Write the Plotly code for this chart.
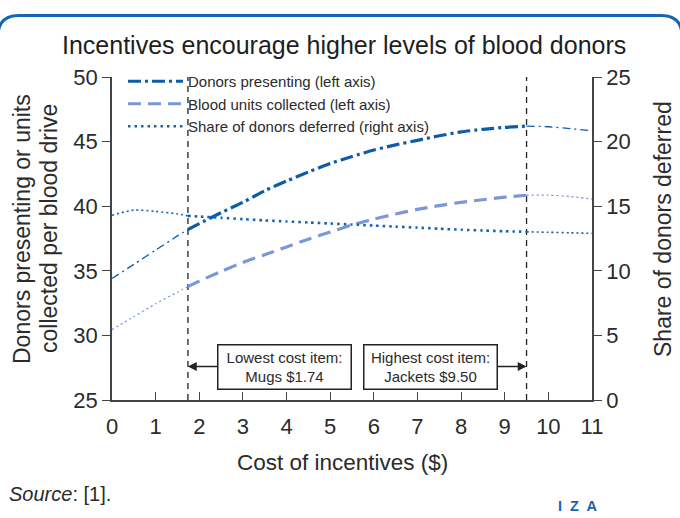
import plotly.graph_objects as go

# ---------------- data ----------------
cost = [0, 0.5, 1, 1.5, 1.74, 2, 2.5, 3, 3.5, 4, 4.5, 5, 5.5, 6, 6.5, 7, 7.5, 8, 8.5, 9, 9.5, 10, 10.5, 11]
donors_presenting = [34.4, 35.5, 36.6, 37.7, 38.2, 38.65, 39.5, 40.3, 41.2, 41.95, 42.65, 43.3, 43.85, 44.35,
                     44.75, 45.1, 45.45, 45.75, 45.95, 46.1, 46.2, 46.15, 46.0, 45.85]
blood_units = [30.45, 31.45, 32.45, 33.35, 33.77, 34.2, 34.95, 35.65, 36.25, 36.85, 37.45, 38.0, 38.55, 39.0,
               39.4, 39.75, 40.05, 40.3, 40.5, 40.7, 40.85, 40.85, 40.75, 40.55]
share_deferred = [14.3, 14.7, 14.6, 14.4, 14.25, 14.2, 14.1, 14.0, 13.9, 13.82, 13.74, 13.66, 13.58, 13.5,
                  13.42, 13.34, 13.26, 13.18, 13.12, 13.06, 13.02, 12.98, 12.94, 12.9]
lowest_cost = 1.74
highest_cost = 9.50
x_ticks = list(range(0, 12))
left_ticks = [25, 30, 35, 40, 45, 50]
right_ticks = [0, 5, 10, 15, 20, 25]

# ---------------- layout constants ----------------
W, H = 680, 518
ML, MR, MT, MB = 112, 88, 77, 118
PW, PH = W - ML - MR, H - MT - MB
FONT = "Liberation Sans, Arial, sans-serif"
TXT = "#2b2b2b"
AX = "#444444"
C_DON = "#0d5cab"
C_BLD = "#7b97d5"
C_SHR = "#1764b5"
C_BORDER = "#1565b3"


def px(xp):
    return (xp - ML) / PW


def py(yp):
    return (H - MB - yp) / PH


def seg(xs, ys, lo, hi):
    pts = [(a, b) for a, b in zip(xs, ys) if lo <= a <= hi]
    return [p[0] for p in pts], [p[1] for p in pts]


fig = go.Figure()

series = [
    ("Donors presenting (left axis)", donors_presenting, C_DON, "13px,4px,3px,4px", "8px,4px,2px,4px", 3.2, 1.3, "y"),
    ("Blood units collected (left axis)", blood_units, C_BLD, "13px,7px", "2px,3px", 3.2, 1.3, "y"),
    ("Share of donors deferred (right axis)", share_deferred, C_SHR, "2.5px,4px", "2px,3px", 2.6, 1.6, "y2"),
]

for name, ys, col, dmain, dthin, wmain, wthin, yax in series:
    xa, ya = seg(cost, ys, 0, lowest_cost)
    fig.add_trace(go.Scatter(x=xa, y=ya, mode="lines", yaxis=yax, showlegend=False,
                             line=dict(color=col, width=wthin, dash=dthin, shape="spline", smoothing=0.6),
                             hoverinfo="skip"))
    xb, yb = seg(cost, ys, lowest_cost, highest_cost)
    fig.add_trace(go.Scatter(x=xb, y=yb, mode="lines", yaxis=yax, name=name,
                             line=dict(color=col, width=wmain, dash=dmain, shape="spline", smoothing=0.6)))
    xc, yc = seg(cost, ys, highest_cost, 11)
    fig.add_trace(go.Scatter(x=xc, y=yc, mode="lines", yaxis=yax, showlegend=False,
                             line=dict(color=col, width=wthin, dash=dthin, shape="spline", smoothing=0.6),
                             hoverinfo="skip"))

shapes = []
for xv in (lowest_cost, highest_cost):
    shapes.append(dict(type="line", xref="x", yref="paper", x0=xv, x1=xv, y0=0, y1=1,
                       line=dict(color="#222222", width=1.3, dash="6px,5px"), layer="below"))

# rounded frame around the figure
L, R, T, B, RAD = -2, 682, 15.5, 527, 21
path = (f"M {px(L)},{py(B)} L {px(L)},{py(T + RAD)} Q {px(L)},{py(T)} {px(L + RAD)},{py(T)} "
        f"L {px(R - RAD)},{py(T)} Q {px(R)},{py(T)} {px(R)},{py(T + RAD)} L {px(R)},{py(B)} ")
shapes.append(dict(type="path", xref="paper", yref="paper", path=path,
                   line=dict(color=C_BORDER, width=3)))

box_y = py(366.5)
TITLE_SIZE = 23


def txt(text, xp, yp, size, angle=0, anchor="center", color=TXT, family=FONT):
    return dict(text=text, xref="paper", yref="paper", x=px(xp), y=py(yp), xanchor=anchor,
                yanchor="middle", textangle=angle, showarrow=False,
                font=dict(size=size, color=color, family=family))


annotations = [
    txt("Incentives encourage higher levels of blood donors", 343.5, 45, 25, color="#1e1e1e"),
    txt("Cost of incentives ($)", 342, 462, 22.5),
    txt("Donors presenting or units", 22, 229, TITLE_SIZE, angle=-90),
    txt("collected per blood drive", 49, 229, TITLE_SIZE, angle=-90),
    txt("Share of donors deferred", 663, 229, TITLE_SIZE, angle=-90),
    txt("<i>Source</i>: [1].", 7, 494, 20, anchor="left"),
    txt("<b>I  Z  A</b>", 577, 506, 14.5, color="#1a63b0"),
    dict(text="Lowest cost item:<br>Mugs $1.74", x=lowest_cost, y=box_y, xref="x", yref="paper",
         ax=96.5, ay=0, axref="pixel", ayref="pixel", showarrow=True, arrowhead=2, arrowsize=1.1,
         arrowwidth=1.6, arrowcolor="#222222", bgcolor="white", bordercolor="#222222", borderwidth=1.5,
         borderpad=3, width=126, font=dict(size=15, color=TXT, family=FONT), align="center"),
    dict(text="Highest cost item:<br>Jackets $9.50", x=highest_cost, y=box_y, xref="x", yref="paper",
         ax=-95.7, ay=0, axref="pixel", ayref="pixel", showarrow=True, arrowhead=2, arrowsize=1.1,
         arrowwidth=1.6, arrowcolor="#222222", bgcolor="white", bordercolor="#222222", borderwidth=1.5,
         borderpad=3, width=126, font=dict(size=15, color=TXT, family=FONT), align="center"),
]

tickfont = dict(size=22, color=TXT, family=FONT)
fig.update_layout(
    width=W, height=H, margin=dict(l=ML, r=MR, t=MT, b=MB, autoexpand=False),
    paper_bgcolor="white", plot_bgcolor="white",
    font=dict(family=FONT, color=TXT),
    showlegend=True,
    legend=dict(x=px(123), y=py(65), xanchor="left", yanchor="top", bgcolor="rgba(0,0,0,0)",
                font=dict(size=15, color=TXT, family=FONT), itemwidth=55, tracegroupgap=0),
    xaxis=dict(range=[0, 11], tickvals=x_ticks, ticks="inside", ticklen=8, tickwidth=1.3, tickcolor=AX,
               showline=True, linecolor=AX, linewidth=1.5, showgrid=False, zeroline=False,
               tickfont=tickfont, ticklabelstandoff=6),
    yaxis=dict(range=[25, 50], tickvals=left_ticks, ticks="outside", ticklen=8, tickwidth=1.3, tickcolor=AX,
               showline=True, linecolor=AX, linewidth=1.5, showgrid=False, zeroline=False,
               tickfont=tickfont),
    yaxis2=dict(range=[0, 25], tickvals=right_ticks, overlaying="y", side="right", ticks="outside",
                ticklen=8, tickwidth=1.3, tickcolor=AX, showline=True, linecolor=AX, linewidth=1.5,
                showgrid=False, zeroline=False, tickfont=tickfont),
    shapes=shapes,
    annotations=annotations,
)

fig.write_html("out.html", config={"displayModeBar": False},
               post_script="document.body.style.margin='0';document.body.style.overflow='hidden';")
